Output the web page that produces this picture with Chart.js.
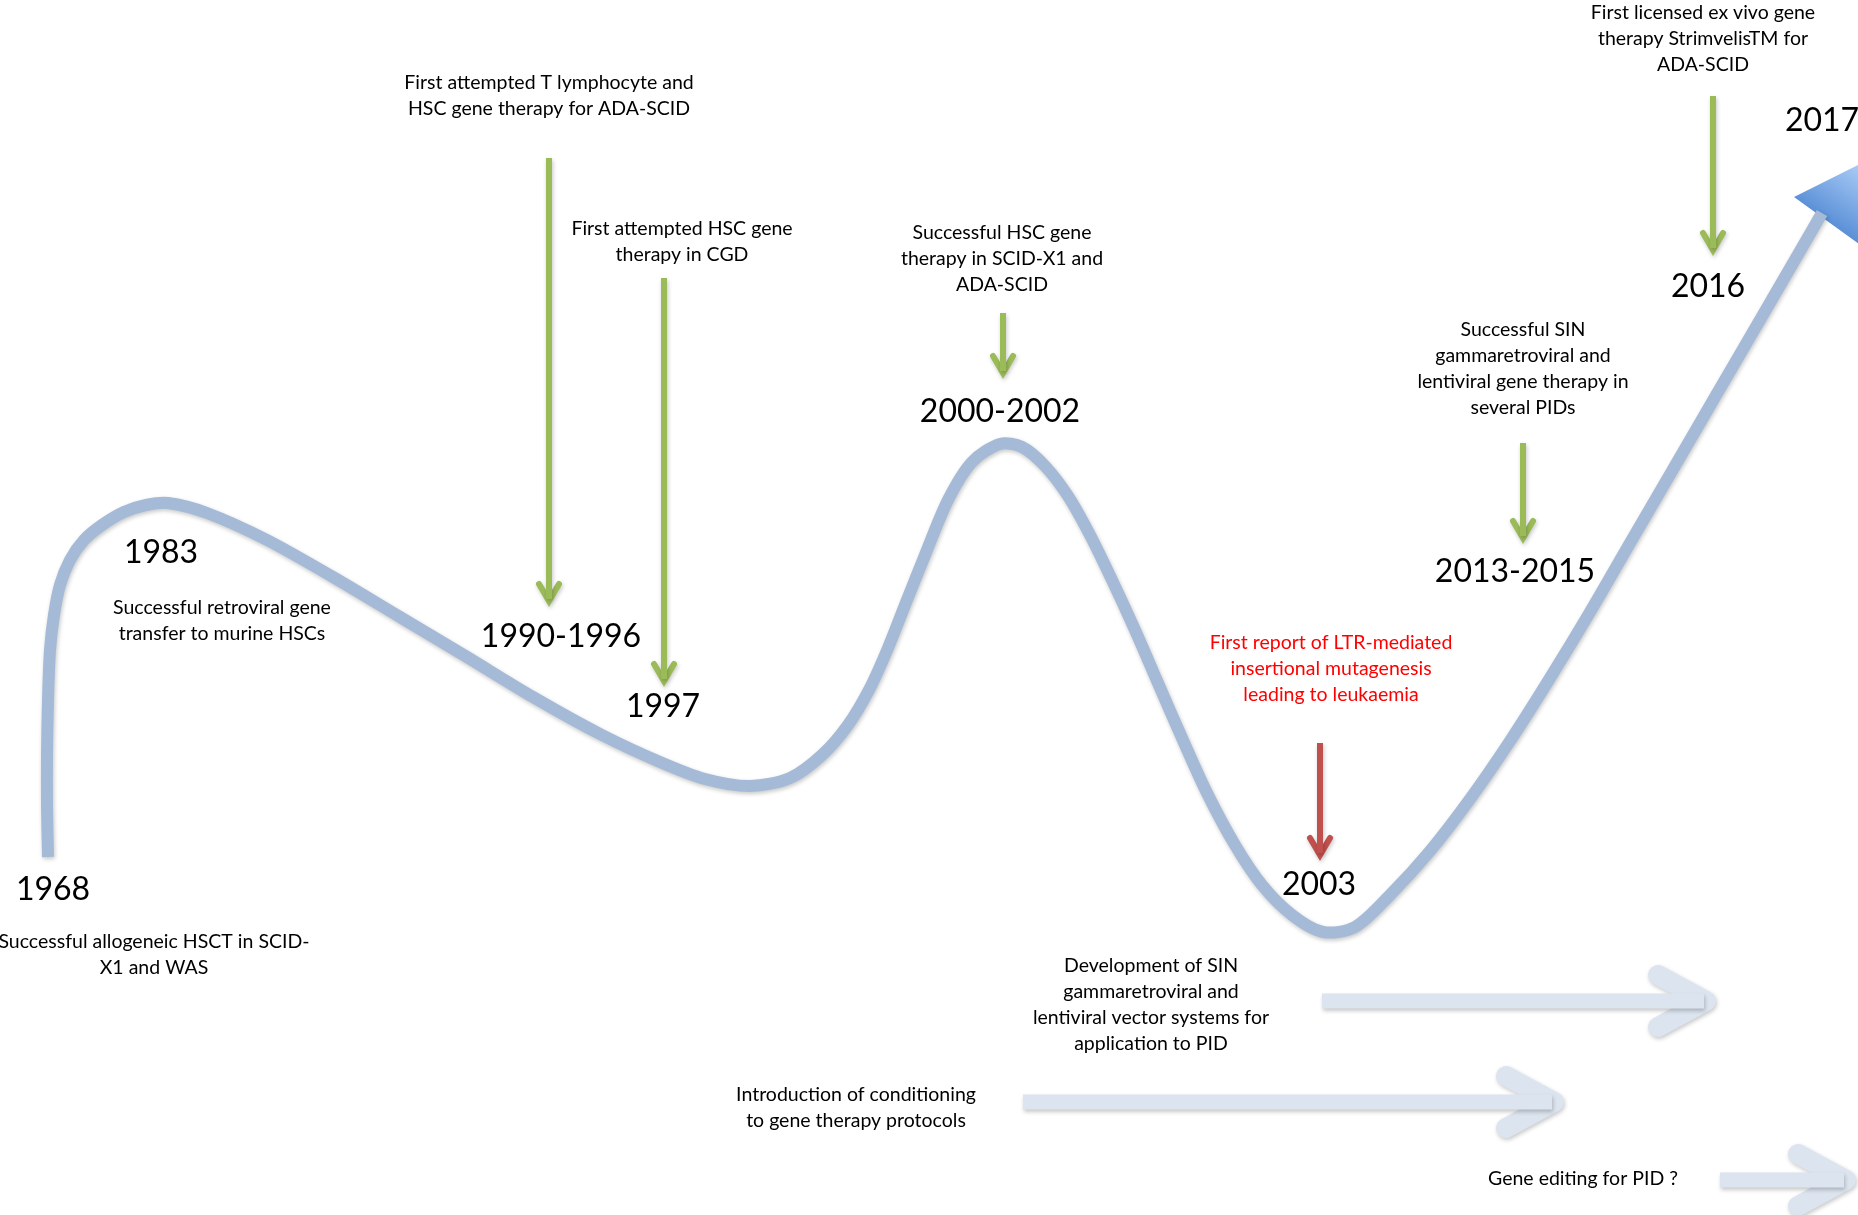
<!DOCTYPE html>
<html>
<head>
<meta charset="utf-8">
<script src="https://cdn.jsdelivr.net/npm/chart.js@4.4.1/dist/chart.umd.min.js"></script>
<style>
  html, body { margin: 0; padding: 0; background: #fff; }
  canvas { display: block; }
</style>
</head>
<body>
<canvas id="chart" width="1858" height="1215"></canvas>
<script>
// figure units: x 0..1858 left->right, y 0..1215 top->bottom

// the big timeline curve
const curveX = [48, 47, 47, 48, 50, 54, 60, 70, 84, 102, 124, 146, 168, 207, 267, 333, 400, 467, 533, 600, 660, 705, 750, 790, 822, 848, 870, 888, 905, 925, 948, 972, 1000, 1022, 1045, 1068, 1090, 1112, 1135, 1158, 1182, 1207, 1235, 1262, 1292, 1323, 1355, 1390, 1430, 1470, 1510, 1550, 1590, 1630, 1672, 1715, 1757, 1800, 1822];
const curveY = [857, 805, 755, 700, 650, 615, 585, 560, 540, 525, 512, 505, 503, 513, 540, 577, 617, 657, 697, 734, 762, 779, 786, 778, 755, 725, 688, 648, 605, 555, 500, 462, 444, 447, 466, 496, 535, 580, 630, 683, 738, 793, 845, 885, 915, 932, 927, 895, 851, 799, 741, 678, 612, 543, 471, 397, 325, 251, 213];

// arrowhead at the end of the curve
const headX = [1794, 1884, 1884, 1794];
const headY = [197, 152, 262, 197];

// year labels
const years = ["1968", "1983", "1990-1996", "1997", "2000-2002", "2003", "2013-2015", "2016", "2017"];
const yearX = [53, 161, 561, 663, 1000, 1319, 1515, 1708, 1822];
const yearY = [890, 553, 637, 707, 412, 885, 572, 287, 121];

// event descriptions
const notes = [
    ["Successful allogeneic HSCT in SCID-", "X1 and WAS"],
    ["Successful retroviral gene", "transfer to murine HSCs"],
    ["First attempted T lymphocyte and", "HSC gene therapy for ADA-SCID"],
    ["First attempted HSC gene", "therapy in CGD"],
    ["Successful HSC gene", "therapy in SCID-X1 and", "ADA-SCID"],
    ["First report of LTR-mediated", "insertional mutagenesis", "leading to leukaemia"],
    ["Successful SIN", "gammaretroviral and", "lentiviral gene therapy in", "several PIDs"],
    ["First licensed ex vivo gene", "therapy StrimvelisTM for", "ADA-SCID"],
    ["Development of SIN", "gammaretroviral and", "lentiviral vector systems for", "application to PID"],
    ["Introduction of conditioning", "to gene therapy protocols"],
    ["Gene editing for PID ?"]
];
const noteX = [154, 222, 549, 682, 1002, 1331, 1523, 1703, 1151, 856, 1583];
const noteY = [942, 608, 83, 229, 233, 643, 330, 13, 966, 1095, 1179];
const noteWarn = [false, false, false, false, false, true, false, false, false, false, false];

// vertical event arrows
const arrowX = [549, 664, 1003, 1320, 1523, 1713];
const arrowTop = [158, 278, 313, 743, 443, 96];
const arrowTip = [603, 683, 375, 857, 540, 252];
const arrowBad = [false, false, false, true, false, false];

// horizontal development arrows
const trendStart = [1322, 1023, 1720];
const trendEnd = [1712, 1560, 1852];
const trendY = [1001, 1102, 1180];

const GREEN = "#9BBB59";
const RED = "#C0504D";
const CURVE = "#A5BAD7";
const TREND = "#DCE4EF";

const pts = (xs, ys) => xs.map((x, i) => ({ x: x, y: ys[i] }));

const datasets = [];

// curve
datasets.push({
    data: pts(curveX, curveY),
    borderColor: CURVE,
    borderWidth: 12,
    tension: 0.3,
    borderCapStyle: "butt",
    pointRadius: 0,
    shadow: true
});

// arrowhead triangle with gradient
datasets.push({
    data: pts(headX, headY),
    borderWidth: 0,
    borderColor: "rgba(0,0,0,0)",
    tension: 0,
    pointRadius: 0,
    fill: "shape",
    backgroundColor: (c) => {
        const ch = c.chart;
        if (!ch.chartArea) return "#4A86D6";
        const sx = ch.scales.x, sy = ch.scales.y;
        const g = ch.ctx.createLinearGradient(
            sx.getPixelForValue(1810), sy.getPixelForValue(240),
            sx.getPixelForValue(1860), sy.getPixelForValue(166));
        g.addColorStop(0, "#3C79CB");
        g.addColorStop(1, "#A9CBF6");
        return g;
    }
});

// vertical arrows
arrowX.forEach((x, i) => {
    const col = arrowBad[i] ? RED : GREEN;
    datasets.push({
        data: [{ x: x, y: arrowTop[i] }, { x: x, y: arrowTip[i] - 4 }],
        borderColor: col, borderWidth: 6, pointRadius: 0, tension: 0,
        borderCapStyle: "butt", shadow: true
    });
    datasets.push({
        data: [{ x: x - 10, y: arrowTip[i] - 19 }, { x: x, y: arrowTip[i] - 2 }, { x: x + 10, y: arrowTip[i] - 19 }],
        borderColor: col, borderWidth: 6, pointRadius: 0, tension: 0,
        borderCapStyle: "round", borderJoinStyle: "miter", shadow: true
    });
});

// horizontal trend arrows
trendStart.forEach((x0, i) => {
    const x1 = trendEnd[i], y = trendY[i];
    datasets.push({
        data: [{ x: x0, y: y }, { x: x1 - 8, y: y }],
        borderColor: TREND, borderWidth: 15, pointRadius: 0, tension: 0,
        borderCapStyle: "butt", shadow: true
    });
    datasets.push({
        data: [{ x: x1 - 54, y: y - 26 }, { x: x1 - 6, y: y }, { x: x1 - 54, y: y + 26 }],
        borderColor: TREND, borderWidth: 20, pointRadius: 0, tension: 0,
        borderCapStyle: "round", borderJoinStyle: "round", shadow: true
    });
});

// soft drop shadow like the original shapes
const shadowPlugin = {
    id: "shadow",
    beforeDatasetDraw(chart, args) {
        const ds = chart.data.datasets[args.index];
        chart.ctx.save();
        if (ds.shadow) {
            chart.ctx.shadowColor = "rgba(0,0,0,0.22)";
            chart.ctx.shadowBlur = 4;
            chart.ctx.shadowOffsetX = 1;
            chart.ctx.shadowOffsetY = 2;
        }
    },
    afterDatasetDraw(chart) {
        chart.ctx.restore();
    }
};

// years and descriptions
const textPlugin = {
    id: "texts",
    afterDatasetsDraw(chart) {
        const ctx = chart.ctx;
        const sx = chart.scales.x, sy = chart.scales.y;
        ctx.save();
        ctx.textAlign = "center";
        ctx.textBaseline = "middle";

        ctx.fillStyle = "#000";
        ctx.font = "32px Lato";
        years.forEach((t, i) => {
            ctx.fillText(t, sx.getPixelForValue(yearX[i]), sy.getPixelForValue(yearY[i]));
        });

        ctx.font = "19.5px Lato";
        notes.forEach((lines, i) => {
            ctx.fillStyle = noteWarn[i] ? "#FF0000" : "#000";
            lines.forEach((line, j) => {
                ctx.fillText(line, sx.getPixelForValue(noteX[i]), sy.getPixelForValue(noteY[i] + j * 26));
            });
        });
        ctx.restore();
    }
};

const ctx = document.getElementById("chart").getContext("2d");

new Chart(ctx, {
    type: "line",
    data: { datasets: datasets },
    options: {
        responsive: false,
        animation: false,
        layout: { padding: 0 },
        plugins: {
            legend: { display: false },
            tooltip: { enabled: false }
        },
        scales: {
            x: { type: "linear", min: 0, max: 1858, display: false },
            y: { type: "linear", min: 0, max: 1215, reverse: true, display: false }
        }
    },
    plugins: [shadowPlugin, textPlugin]
});
</script>
</body>
</html>
